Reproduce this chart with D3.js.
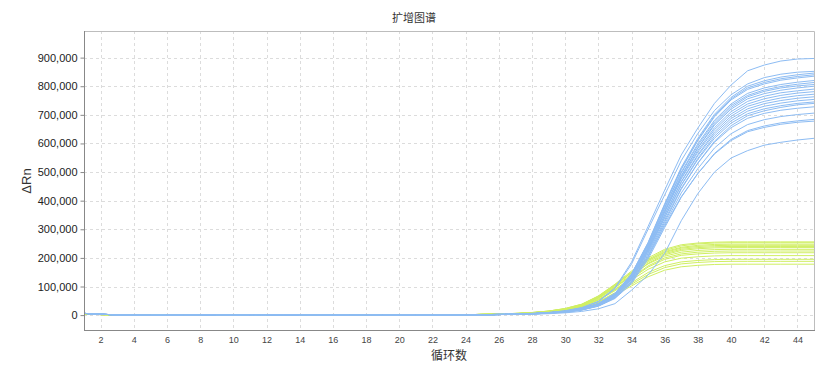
<!DOCTYPE html>
<html>
<head>
<meta charset="utf-8">
<script src="https://cdn.jsdelivr.net/npm/d3@7"></script>
<style>
  body { margin: 0; background: #fff; }
  svg { font-family: "Liberation Sans", Arial, sans-serif; }
  .cjk { font-family: "Noto Sans CJK SC", sans-serif; }
</style>
</head>
<body>
<svg id="chart" width="819" height="375"></svg>
<script>
// cycles 1..25, flat baseline (thousands)
var blueEarly = [6, 3, 1, 0, -0.5, -0.5, 0, 1.5, 1.5, 0, 1, 1.5, 1.5, 1.5, 1, 0, 0, 1.5, 0, 0, 0, 0, 0, 0.5, 1];
var greenEarly = [4, 2, 1, 0, 0, 0, 0, 0.5, 0.5, 0, 0.5, 0.5, 0.5, 0.5, 0.5, 0, 0, 0.5, 0, 0, 0.5, 0.5, 1, 1.5, 2.5];

// cycles 26..45 (thousands)
var blueCurves = [
  [3,4,6,9,15,26,48,95,185,310,437,560,654,740,804,854,874,888,895,897],
  [3,4,6,9,15,26,47,92,178,300,420,540,635,715,770,808,830,842,849,852],
  [3,3,5,9,14,23,41,76,144,254,389,516,618,702,761,800,819,832,840,846],
  [3,3,5,8,13,23,40,76,143,252,386,512,613,697,756,794,813,826,834,840],
  [3,3,5,8,13,22,40,75,142,250,384,509,610,693,752,789,808,821,829,835],
  [2,3,5,8,13,22,39,74,139,246,377,500,599,681,738,775,794,806,814,820],
  [2,3,5,8,13,22,39,73,138,244,374,496,593,675,732,768,787,799,807,813],
  [2,3,5,8,12,20,36,68,130,232,362,485,585,668,726,763,782,794,801,806],
  [2,3,5,8,13,22,38,72,136,240,368,488,584,664,720,756,774,786,794,800],
  [2,3,5,8,12,21,37,70,132,235,361,480,576,655,711,747,765,777,784,790],
  [2,3,5,8,12,21,37,70,133,236,360,476,570,648,703,738,756,768,776,781],
  [2,3,5,8,12,20,35,67,127,226,350,467,561,640,695,730,747,759,767,772],
  [2,3,5,8,12,21,37,69,130,229,351,465,557,633,687,721,739,750,758,763],
  [2,3,5,8,12,20,35,66,124,220,340,455,548,625,679,713,730,741,749,754],
  [2,3,4,7,12,20,36,67,127,224,343,454,544,618,671,704,721,732,740,745],
  [2,3,4,7,11,19,33,62,118,210,325,440,532,608,662,697,714,726,735,740],
  [2,3,4,7,11,19,34,64,122,215,332,444,531,604,655,688,705,716,723,728],
  [2,3,4,7,11,18,32,60,115,205,318,427,512,584,634,666,683,694,701,706],
  [2,3,4,7,10,18,31,58,110,196,306,412,495,565,614,645,661,672,679,684],
  [2,3,4,7,11,18,33,61,115,203,312,414,495,563,610,641,656,667,674,678],
  [2,2,3,5,8,13,22,40,87,140,216,330,425,500,549,575,594,604,612,618]
];

var greenCurves = [
  [4,6,9,14,23,38,67,108,154,200,230,246,252,255,256,256,256,256,256,256],
  [4,6,9,14,22,37,64,104,150,195,226,242,249,252,253,253,253,253,253,253],
  [4,5,8,13,21,35,62,102,148,192,222,237,244,247,248,248,248,248,248,248],
  [4,6,9,14,23,38,66,106,149,190,219,234,240,243,244,244,244,244,244,244],
  [3,5,8,13,21,35,61,99,143,186,215,230,236,239,240,240,240,240,240,240],
  [3,5,8,12,20,33,58,95,138,181,211,226,232,235,236,236,236,236,236,236],
  [3,5,8,13,21,35,60,97,139,179,206,220,226,229,230,230,230,230,230,230],
  [3,5,7,12,19,32,55,90,130,172,200,214,220,223,224,224,224,224,224,224],
  [3,5,7,11,18,30,53,88,128,168,195,209,214,217,218,218,218,218,218,218],
  [3,4,7,11,18,30,52,85,123,160,186,199,204,207,208,208,208,208,208,208],
  [3,4,6,10,16,27,47,78,113,149,173,186,191,194,195,195,195,195,195,195],
  [3,4,6,10,16,26,45,75,108,142,166,179,184,187,188,188,188,188,188,188],
  [2,4,6,9,14,24,42,70,102,134,157,169,174,177,178,178,178,178,178,178]
];

var yTicks = [0, 100000, 200000, 300000, 400000, 500000, 600000, 700000, 800000, 900000];
var xTicks = [2, 4, 6, 8, 10, 12, 14, 16, 18, 20, 22, 24, 26, 28, 30, 32, 34, 36, 38, 40, 42, 44];

(function() {
    var left = 84, right = 814, top = 31, bottom = 330;
    var svg = d3.select("#chart");

    var x = d3.scaleLinear().domain([1, 45]).range([left, right]);
    var y = d3.scaleLinear().domain([-52000, 993000]).range([bottom, top]);

    // grid
    svg.append("g").selectAll("line.h").data(yTicks).enter().append("line")
        .attr("x1", left).attr("x2", right)
        .attr("y1", d => Math.round(y(d)) + 0.5).attr("y2", d => Math.round(y(d)) + 0.5)
        .attr("stroke", "#dcdcdc").attr("stroke-dasharray", "3,3");
    svg.append("g").selectAll("line.v").data(xTicks).enter().append("line")
        .attr("y1", top).attr("y2", bottom)
        .attr("x1", d => Math.round(x(d)) + 0.5).attr("x2", d => Math.round(x(d)) + 0.5)
        .attr("stroke", "#dcdcdc").attr("stroke-dasharray", "3,3");

    // frame top/right
    svg.append("path")
        .attr("d", `M${left},${top + 0.5}H${right + 0.5}V${bottom}`)
        .attr("fill", "none").attr("stroke", "#bdbdbd");

    var toSeries = function(early, late) {
        return early.concat(late).map((v, i) => [i + 1, v * 1000]);
    };
    var line = d3.line().x(d => x(d[0])).y(d => y(d[1]));

    var plot = svg.append("g");
    plot.selectAll("path.g").data(greenCurves).enter().append("path")
        .attr("d", d => line(toSeries(greenEarly, d)))
        .attr("fill", "none").attr("stroke", "#d0ef62").attr("stroke-width", 1);
    plot.selectAll("path.b").data(blueCurves).enter().append("path")
        .attr("d", d => line(toSeries(blueEarly, d)))
        .attr("fill", "none").attr("stroke", "#8dbcf3").attr("stroke-width", 1);

    // axes
    var yAxis = svg.append("g")
        .attr("transform", `translate(${left + 0.5},0)`)
        .call(d3.axisLeft(y).tickValues(yTicks).tickFormat(d3.format(",")).tickSize(4).tickSizeOuter(0));
    yAxis.select(".domain").attr("stroke", "#888").attr("d", `M0,${top}V${bottom}`);
    yAxis.selectAll(".tick line").attr("stroke", "#888");
    yAxis.selectAll(".tick text").attr("fill", "#222").style("font-size", "11px")
        .style("font-family", "'Liberation Sans', Arial, sans-serif").attr("x", -7);

    var xAxis = svg.append("g")
        .attr("transform", `translate(0,${bottom + 0.5})`)
        .call(d3.axisBottom(x).tickValues(xTicks).tickSize(0).tickSizeOuter(0));
    xAxis.select(".domain").attr("stroke", "#888").attr("d", `M${left},0H${right + 1}`);
    xAxis.selectAll(".tick text").attr("fill", "#444").style("font-size", "9px")
        .style("font-family", "'Liberation Sans', Arial, sans-serif").attr("y", 6);

    // titles
    svg.append("text").attr("class", "cjk")
        .attr("x", 414).attr("y", 22).attr("text-anchor", "middle")
        .style("font-size", "11px").attr("fill", "#333").text("扩增图谱");
    svg.append("text").attr("class", "cjk")
        .attr("x", 449).attr("y", 360).attr("text-anchor", "middle")
        .style("font-size", "12px").attr("fill", "#333").text("循环数");
    svg.append("text")
        .attr("transform", "translate(31,181) rotate(-90)").attr("text-anchor", "middle")
        .style("font-size", "13px").attr("fill", "#333").text("ΔRn");
})();
</script>
</body>
</html>
